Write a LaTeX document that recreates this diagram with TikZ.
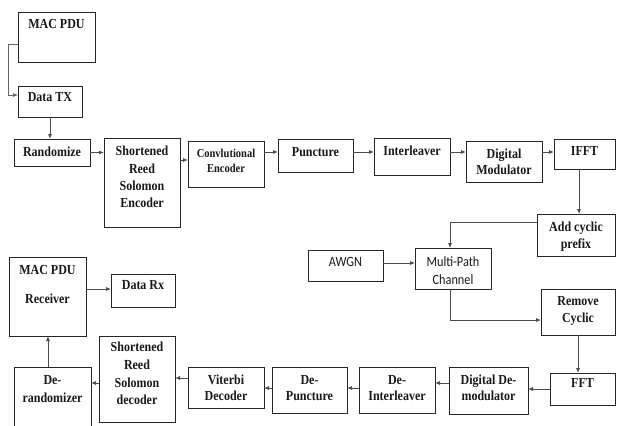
\documentclass[tikz,border=0pt]{standalone}
\usepackage{fontspec}
\usepackage{graphicx}
\setmainfont{Liberation Serif}
\newfontfamily\sansf{Carlito}
\usetikzlibrary{arrows.meta,calc}
\newcommand\sx[1]{\scalebox{1}[1.15]{#1}}
\tikzset{
  box/.style={draw=black!85, line width=0.8pt, fill=white, inner sep=0pt, outer sep=0pt, anchor=north west},
  lbl/.style={font={\bfseries\fontsize{12}{17}\selectfont}, align=center, inner sep=0pt, text=black!90},
  slbl/.style={font={\sansf\fontsize{12.3}{18}\selectfont}, align=center, inner sep=0pt, text=black!90},
  conn/.style={draw=black!70, line width=0.8pt, -{Latex[length=5pt,width=4pt]}},
}
\begin{document}
\begin{tikzpicture}[x=1pt,y=-1pt]
\clip (0,0) rectangle (617,425);
\fill[white] (0,0) rectangle (617,425);
% boxes
\node[box, minimum width=77pt, minimum height=50pt] (macpdu) at (18,12) {};
\node[box, minimum width=64pt, minimum height=31pt] (datatx) at (18,86) {};
\node[box, minimum width=76pt, minimum height=27pt] (rand) at (14,139) {};
\node[box, minimum width=76pt, minimum height=89pt] (srse) at (104,138) {};
\node[box, minimum width=76pt, minimum height=46pt] (conv) at (188,141) {};
\node[box, minimum width=75pt, minimum height=33pt] (punct) at (278,139) {};
\node[box, minimum width=76pt, minimum height=37pt] (inter) at (374,138) {};
\node[box, minimum width=76pt, minimum height=41pt] (dmod) at (466,141) {};
\node[box, minimum width=61pt, minimum height=30pt] (ifft) at (554,139) {};
\node[box, minimum width=78pt, minimum height=42pt] (addcp) at (537,214) {};
\node[box, minimum width=75pt, minimum height=31pt] (awgn) at (308,250) {};
\node[box, minimum width=76pt, minimum height=41pt] (mpc) at (415,248) {};
\node[box, minimum width=74pt, minimum height=46pt] (remcy) at (541,289) {};
\node[box, minimum width=65pt, minimum height=32pt] (fft) at (550,373) {};
\node[box, minimum width=79pt, minimum height=47pt] (ddmod) at (449,367) {};
\node[box, minimum width=76pt, minimum height=46pt] (deint) at (359,367) {};
\node[box, minimum width=75pt, minimum height=46pt] (depunct) at (272,367) {};
\node[box, minimum width=76pt, minimum height=41pt] (viterbi) at (188,367) {};
\node[box, minimum width=76pt, minimum height=86pt] (srsd) at (99,336) {};
\node[box, minimum width=77pt, minimum height=80pt] (derand) at (14,367) {};
\node[box, minimum width=77pt, minimum height=79pt] (macrx) at (9,257) {};
\node[box, minimum width=64pt, minimum height=33pt] (datarx) at (111,274) {};
% labels
\node[lbl] (macpdu-t) at (56.5,24) {\sx{MAC PDU}};
\node[lbl] (datatx-t) at (50,97) {\sx{Data TX}};
\node[lbl] (rand-t) at (52,152) {\sx{Randomize}};
\node[lbl, font={\bfseries\fontsize{12}{17.4}\selectfont}] (srse-t) at (142,177) {\sx{Shortened}\\\sx{Reed}\\\sx{Solomon}\\\sx{Encoder}};
\node[lbl, font={\bfseries\fontsize{10.5}{15}\selectfont}] (conv-t) at (226,160.5) {\sx{Convlutional}\\\sx{Encoder}};
\node[lbl] (punct-t) at (315.5,152) {\sx{Puncture}};
\node[lbl] (inter-t) at (412,151) {\sx{Interleaver}};
\node[lbl, font={\bfseries\fontsize{12}{16}\selectfont}] (dmod-t) at (504,162) {\sx{Digital}\\\sx{Modulator}};
\node[lbl] (ifft-t) at (584.5,151) {\sx{IFFT}};
\node[lbl] (addcp-t) at (576,236.5) {\sx{Add cyclic}\\\sx{prefix}};
\node[slbl] (awgn-t) at (345.5,262) {\sx{AWGN}};
\node[slbl] (mpc-t) at (453,271) {\sx{Multi-Path}\\\sx{Channel}};
\node[lbl] (remcy-t) at (578,310.5) {\sx{Remove}\\\sx{Cyclic}};
\node[lbl] (fft-t) at (582.5,383) {\sx{FFT}};
\node[lbl, font={\bfseries\fontsize{12}{16}\selectfont}] (ddmod-t) at (488.5,388) {\sx{Digital De-}\\\sx{modulator}};
\node[lbl, font={\bfseries\fontsize{12}{16}\selectfont}] (deint-t) at (397,388) {\sx{De-}\\\sx{Interleaver}};
\node[lbl, font={\bfseries\fontsize{12}{16}\selectfont}] (depunct-t) at (309.5,388) {\sx{De-}\\\sx{Puncture}};
\node[lbl, font={\bfseries\fontsize{12}{16}\selectfont}] (viterbi-t) at (226,388) {\sx{Viterbi}\\\sx{Decoder}};
\node[lbl, font={\bfseries\fontsize{12}{17.7}\selectfont}] (srsd-t) at (137,373.5) {\sx{Shortened}\\\sx{Reed}\\\sx{Solomon}\\\sx{decoder}};
\node[lbl, font={\bfseries\fontsize{12}{18}\selectfont}] (derand-t) at (52.5,389) {\sx{De-}\\\sx{randomizer}};
\node[lbl, font={\bfseries\fontsize{12}{29}\selectfont}] (macrx-t) at (47.5,284.5) {\sx{MAC PDU}\\\sx{Receiver}};
\node[lbl] (datarx-t) at (143,285) {\sx{Data Rx}};
% connectors
\draw[conn, draw=black!60, line width=0.6pt] ([yshift=-7pt]macpdu.west) -- ++(-10pt,0) |- ([yshift=6.5pt]datatx.west);
\draw[conn] (datatx.south) -- (datatx.south |- rand.north);
\draw[conn] (rand.east) -- (rand.east -| srse.west);
\draw[conn] ([yshift=4pt]conv.west -| srse.east) -- ([yshift=4pt]conv.west);
\draw[conn] ([yshift=3.5pt]punct.west -| conv.east) -- ([yshift=3.5pt]punct.west);
\draw[conn] ([yshift=3.5pt]punct.east) -- ([yshift=3.5pt]punct.east -| inter.west);
\draw[conn] ([yshift=4.5pt]inter.east) -- ([yshift=4.5pt]inter.east -| dmod.west);
\draw[conn] ([yshift=2pt]ifft.west -| dmod.east) -- ([yshift=2pt]ifft.west);
\draw[conn] ([xshift=-5.5pt]ifft.south) -- ([xshift=-5.5pt]ifft.south |- addcp.north);
\draw[conn] ([yshift=13pt]addcp.west) -| ([xshift=-3pt]mpc.north);
\draw[conn] ([yshift=2.5pt]awgn.east) -- ([yshift=2.5pt]awgn.east -| mpc.west);
\draw[conn] ([xshift=-3pt]mpc.south) |- ([yshift=-8pt]remcy.west);
\draw[conn] (remcy.south) -- (remcy.south |- fft.north);
\draw[conn] (fft.west) -- (fft.west -| ddmod.east);
\draw[conn] ([yshift=7.5pt]ddmod.west) -- ([yshift=7.5pt]ddmod.west -| deint.east);
\draw[conn] ([yshift=2pt]deint.west) -- ([yshift=2pt]deint.west -| depunct.east);
\draw[conn] ([yshift=2pt]depunct.west) -- ([yshift=2pt]depunct.west -| viterbi.east);
\draw[conn] ([yshift=9.5pt]viterbi.west) -- ([yshift=9.5pt]viterbi.west -| srsd.east);
\draw[conn] ([yshift=-4pt]srsd.west) -- ([yshift=-4pt]srsd.west -| derand.east);
\draw[conn] ([xshift=-4.5pt]derand.north) -- ([xshift=-4.5pt]derand.north |- macrx.south);
\draw[conn] ([yshift=7.5pt]macrx.east) -- ([yshift=7.5pt]macrx.east -| datarx.west);
\end{tikzpicture}
\end{document}
